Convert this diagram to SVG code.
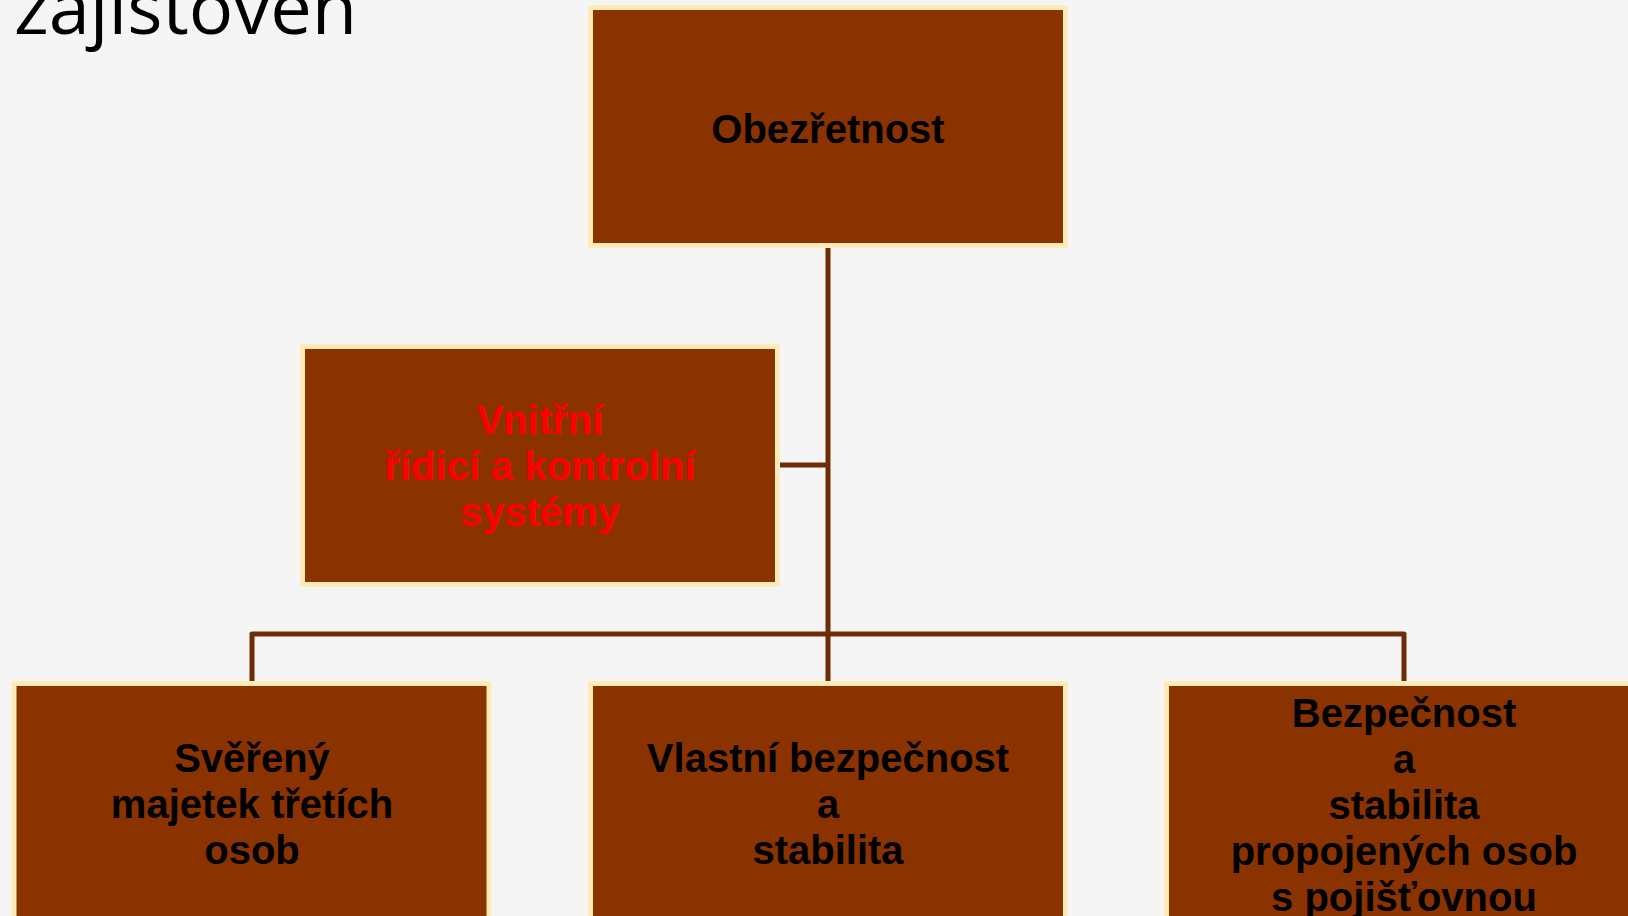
<svg xmlns="http://www.w3.org/2000/svg" width="1628" height="916" viewBox="0 0 1628 916">
<style>
.box{fill:#8B3300;stroke:#FFEBB8;stroke-width:5;stroke-linejoin:round}
.t{font-family:"Liberation Sans",Arial,sans-serif;font-weight:bold;font-size:40px;text-anchor:middle;fill:#000}
.red{fill:#FF0000}
.conn{fill:none;stroke:#6E2C05;stroke-width:5;stroke-linejoin:round}
</style>
<rect width="1628" height="916" fill="#F5F5F5"/>
<text x="14" y="34" font-family="'Open Sans','Noto Sans',sans-serif" font-size="74" fill="#000">zajišťoven</text>
<g id="connectors">
<path class="conn" d="M828 248 V681"/>
<path class="conn" d="M780 465 H828"/>
<path class="conn" d="M252 681 V634 H1404 V681"/>
</g>
<g id="obezretnost">
<rect class="box" x="590.5" y="7.5" width="475" height="238"/>
<text class="t" x="828" y="143">Obezřetnost</text>
</g>
<g id="vnitrni">
<rect class="box" x="302.5" y="346.5" width="475" height="238"/>
<text class="t red" x="540" y="434">Vnitřní</text>
<text class="t red" x="540" y="480">řídicí a kontrolní</text>
<text class="t red" x="540" y="526">systémy</text>
</g>
<g id="svereny">
<rect class="box" x="14" y="683.5" width="475" height="238"/>
<text class="t" x="252" y="772">Svěřený</text>
<text class="t" x="252" y="818">majetek třetích</text>
<text class="t" x="252" y="864">osob</text>
</g>
<g id="vlastni">
<rect class="box" x="590.5" y="683.5" width="475" height="238"/>
<text class="t" x="828" y="772">Vlastní bezpečnost</text>
<text class="t" x="828" y="818">a</text>
<text class="t" x="828" y="864">stabilita</text>
</g>
<g id="propojene">
<rect class="box" x="1166.5" y="683.5" width="475" height="238"/>
<text class="t" x="1404" y="727">Bezpečnost</text>
<text class="t" x="1404" y="773">a</text>
<text class="t" x="1404" y="819">stabilita</text>
<text class="t" x="1404" y="865">propojených osob</text>
<text class="t" x="1404" y="911">s pojišťovnou</text>
</g>
</svg>
